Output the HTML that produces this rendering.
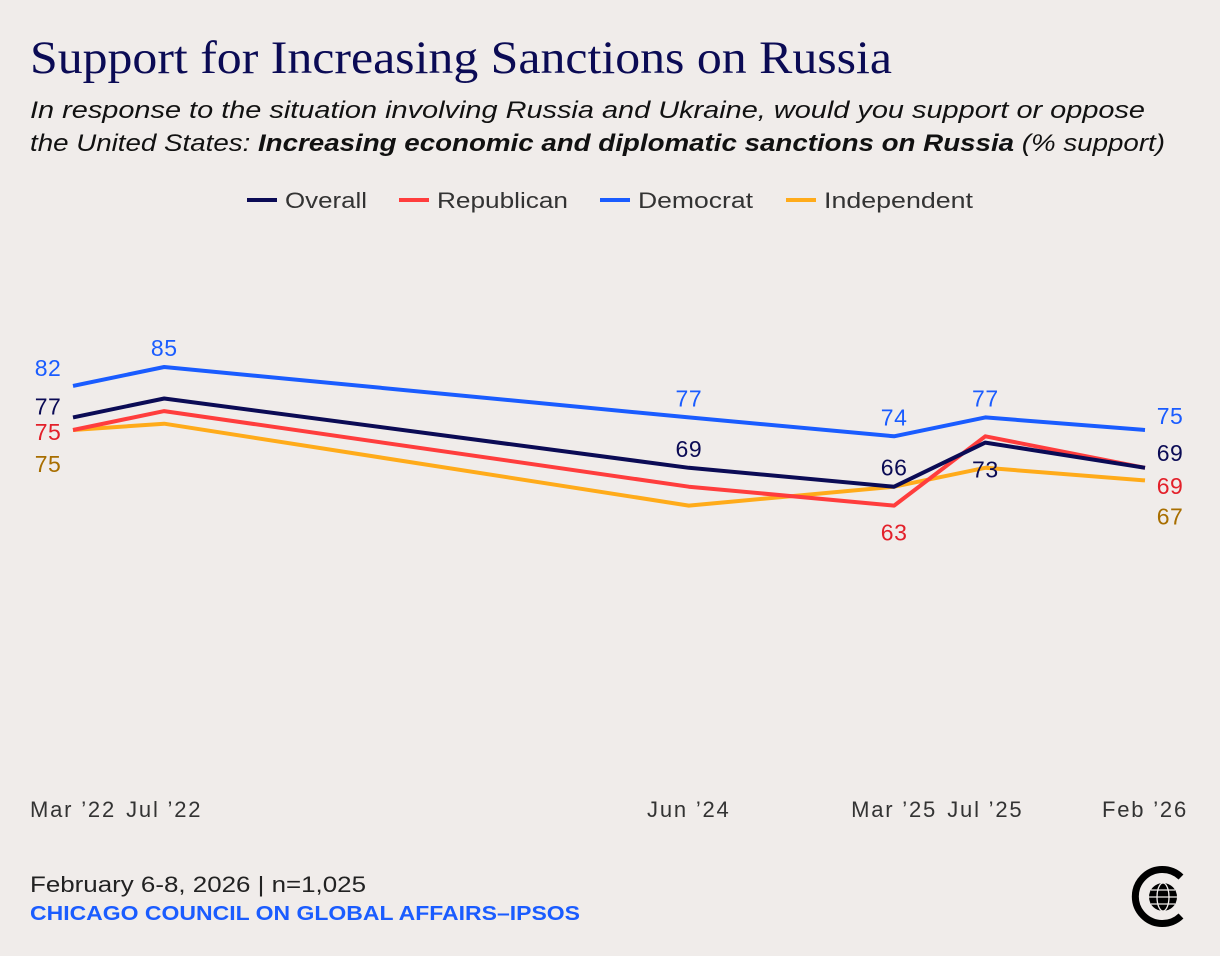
<!DOCTYPE html>
<html><head><meta charset="utf-8"><style>
html,body{margin:0;padding:0;background:#f0ecea;}
svg{display:block;font-family:"Liberation Sans",sans-serif;}
</style></head><body>
<svg id="chart" width="1220" height="956" viewBox="0 0 1220 956">
<rect width="1220" height="956" fill="#f0ecea"/>
<text x="30" y="73" font-family="Liberation Serif,serif" font-size="47" fill="#0b0b55" textLength="862" lengthAdjust="spacingAndGlyphs">Support for Increasing Sanctions on Russia</text>
<text x="30" y="118" font-size="24" font-style="italic" fill="#111" textLength="1115" lengthAdjust="spacingAndGlyphs">In response to the situation involving Russia and Ukraine, would you support or oppose</text>
<text x="30" y="151" font-size="24" font-style="italic" fill="#111" textLength="1135" lengthAdjust="spacingAndGlyphs">the United States: <tspan font-weight="bold">Increasing economic and diplomatic sanctions on Russia</tspan> (% support)</text>
<g id="legend"></g>
<g id="xaxis"></g>
<g id="lines"></g>
<text x="30" y="892" font-size="22" fill="#222" textLength="336" lengthAdjust="spacingAndGlyphs">February 6-8, 2026 | n=1,025</text>
<text x="30" y="920" font-size="20" font-weight="bold" fill="#1a5cff" textLength="550" lengthAdjust="spacingAndGlyphs">CHICAGO COUNCIL ON GLOBAL AFFAIRS–IPSOS</text>
<g>
<path d="M1181 877 A27 27 0 1 0 1181 916" fill="none" stroke="#000" stroke-width="7"/>
<circle cx="1163" cy="897" r="14" fill="#000"/>
<g fill="none" stroke="#f0ecea" stroke-width="1.3"><ellipse cx="1163" cy="897" rx="6" ry="14"/><line x1="1149" y1="897" x2="1177" y2="897"/><line x1="1151" y1="890" x2="1175" y2="890"/><line x1="1151" y1="904" x2="1175" y2="904"/></g>
</g>
</svg>
<script>
const categories=["Mar ’22","Jul ’22","Jun ’24","Mar ’25","Jul ’25","Feb ’26"];
const monthIndex=[0,4,27,36,40,47];
const seriesNames=["Overall","Republican","Democrat","Independent"];
const overall=[77,80,69,66,73,69];
const republican=[75,78,66,63,74,69];
const democrat=[82,85,77,74,77,75];
const independent=[75,76,63,66,69,67];
const NS="http://www.w3.org/2000/svg";
const colors=["#0b0b55","#ff3d3d","#1a5cff","#ffab1a"];
const labelColors=["#0b0b55","#e3202a","#1a5cff","#a86e00"];
const x=m=>73+m*(1145-73)/47;
const y=v=>902.5-6.3*v;
function mk(tag,attrs,parent){const e=document.createElementNS(NS,tag);for(const k in attrs)e.setAttribute(k,attrs[k]);parent.appendChild(e);return e;}
const leg=document.getElementById('legend');
const legX=[247,399,600,786];
const legW=[82,131,115,149];
seriesNames.forEach((n,i)=>{
 const l=mk('line',{x1:legX[i],x2:legX[i]+30,y1:200,y2:200,stroke:colors[i],'stroke-width':4},leg);
 
 
 const t=mk('text',{x:legX[i]+38,y:208,'font-size':22,fill:'#333',textLength:legW[i],lengthAdjust:'spacingAndGlyphs'},leg);t.textContent=n;
 
 
});
const xa=document.getElementById('xaxis');
categories.forEach((c,i)=>{
 const t=mk('text',{x:x(monthIndex[i]),y:817,'font-size':22,fill:'#333','text-anchor':'middle','letter-spacing':'1.8'},xa);t.textContent=c;
 
 
});
const g=document.getElementById('lines');
const all=[overall,republican,democrat,independent];
[3,2,1,0].forEach(si=>{
 const d=all[si].map((v,i)=>(i?'L':'M')+x(monthIndex[i]).toFixed(1)+' '+y(v).toFixed(1)).join(' ');
 const p=mk('path',{d:d,fill:'none',stroke:colors[si],'stroke-width':4,'stroke-linejoin':'round'},g);
 
 
});
const labelSpec=[[2,0,'L'],[2,1,'U'],[2,2,'U'],[2,3,'U'],[2,4,'U'],[2,5,'R'],
 [0,0,'L'],[0,2,'U'],[0,3,'U'],[0,4,'D'],[0,5,'R'],
 [1,0,'L'],[1,3,'D'],[1,5,'R'],[3,0,'L'],[3,5,'R']];
const leftY={2:-18,0:-11,1:2,3:34};
const rightY={2:-14,0:-15,1:18,3:36};
labelSpec.forEach(([s,i,p])=>{
 const v=all[s][i];let px=x(monthIndex[i]),py=y(v),a='middle';
 if(p==='U'){py-=11;}else if(p==='D'){py+=35;}
 else if(p==='L'){px=48;py+=leftY[s]+8;}
 else {px=1170;py+=rightY[s]+8;}
 const t=mk('text',{x:px,y:py,'font-size':23,fill:labelColors[s],'text-anchor':a,'letter-spacing':'0.5'},g);t.textContent=v;
 
 
});
</script>
</body></html>
